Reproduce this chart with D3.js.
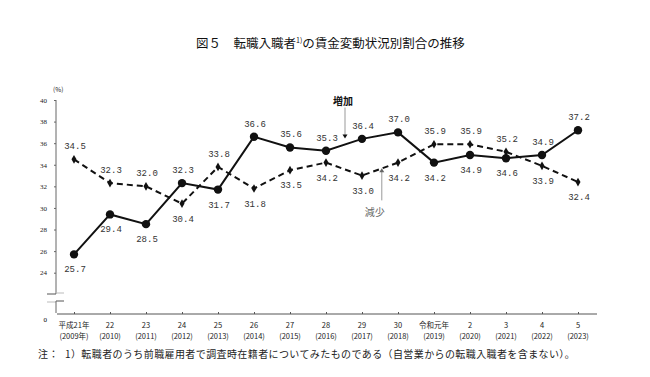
<!DOCTYPE html>
<html>
<head>
<meta charset="utf-8">
<script src="https://cdn.jsdelivr.net/npm/d3@7"></script>
<style>
  body { margin: 0; background: #fff; }
  text { font-family: "Noto Sans CJK JP", sans-serif; }
  .num { font-family: "Liberation Mono", "DejaVu Sans Mono", monospace; }
</style>
</head>
<body>
<div id="chart"></div>
<script>
// data
var years = ["H21", "H22", "H23", "H24", "H25", "H26", "H27", "H28", "H29", "H30", "R1", "R2", "R3", "R4", "R5"];
var yearLabel1 = ["平成21年", "22", "23", "24", "25", "26", "27", "28", "29", "30", "令和元年", "2", "3", "4", "5"];
var yearLabel2 = ["(2009年)", "(2010)", "(2011)", "(2012)", "(2013)", "(2014)", "(2015)", "(2016)", "(2017)", "(2018)", "(2019)", "(2020)", "(2021)", "(2022)", "(2023)"];
var increase = [25.7, 29.4, 28.5, 32.3, 31.7, 36.6, 35.6, 35.3, 36.4, 37.0, 34.2, 34.9, 34.6, 34.9, 37.2];
var decrease = [34.5, 32.3, 32.0, 30.4, 33.8, 31.8, 33.5, 34.2, 33.0, 34.2, 35.9, 35.9, 35.2, 33.9, 32.4];
// label above (1) or below (0) the point
var incAbove = [0, 0, 0, 1, 0, 1, 1, 1, 1, 1, 0, 0, 0, 1, 1];
var decAbove = [1, 1, 1, 0, 1, 0, 0, 0, 0, 0, 1, 1, 1, 0, 0];
var yTicks = [24, 26, 28, 30, 32, 34, 36, 38, 40];

var W = 650, H = 377;
var svg = d3.select("#chart").append("svg")
    .attr("width", W).attr("height", H);

var x = d3.scalePoint().domain(years).range([56, 596]).padding(0.5);
var y = d3.scaleLinear().domain([24, 40]).range([272.7, 100]);
var step = x.step();
var baseY = 314;

// title
var title = svg.append("text")
    .attr("x", 196).attr("y", 48)
    .style("font-size", "12.5px").attr("fill", "#111");
title.append("tspan").text("図５　転職入職者");
title.append("tspan").attr("dy", -5).style("font-size", "7px").text("1)");
title.append("tspan").attr("dy", 5).text("の賃金変動状況別割合の推移");

// y axis
svg.append("g")
    .attr("transform", "translate(56,0)")
    .call(d3.axisLeft(y).tickValues(yTicks).tickSize(2).tickFormat(d3.format("d")))
    .call(function(g) {
      g.select(".domain").remove();
      g.selectAll("line").attr("stroke", "#666");
      g.selectAll("text").attr("x", -9).attr("fill", "#222")
        .style("font-size", "7px").style("font-family", "Liberation Serif, serif");
    });
svg.append("line").attr("x1", 56).attr("x2", 56).attr("y1", y(40)).attr("y2", 294)
    .attr("stroke", "#666");
// axis break
svg.append("line").attr("x1", 47).attr("x2", 56).attr("y1", 294).attr("y2", 294).attr("stroke", "#555");
svg.append("line").attr("x1", 56).attr("x2", 64).attr("y1", 293).attr("y2", 293).attr("stroke", "#bbb");
svg.append("line").attr("x1", 47).attr("x2", 56).attr("y1", 302).attr("y2", 302).attr("stroke", "#bbb");
svg.append("line").attr("x1", 56).attr("x2", 64).attr("y1", 301).attr("y2", 301).attr("stroke", "#555");
svg.append("line").attr("x1", 56).attr("x2", 56).attr("y1", 301).attr("y2", 313).attr("stroke", "#666");
svg.append("text").attr("x", 47).attr("y", 322).attr("text-anchor", "end")
    .style("font-size", "7px").style("font-family", "Liberation Serif, serif").text("0");
svg.append("text").attr("x", 53).attr("y", 92)
    .style("font-size", "6.5px").attr("fill", "#222").text("(%)");

// x axis
svg.append("g")
    .attr("transform", "translate(0," + baseY + ")")
    .call(d3.axisTop(x).tickSize(2).tickFormat(""))
    .call(function(g) {
      g.select(".domain").attr("d", "M57,0H597").attr("stroke", "#555");
      g.selectAll("line").attr("stroke", "#555");
    });
svg.append("g").selectAll("text.l1").data(years).enter().append("text")
    .attr("x", function(d) { return x(d); }).attr("y", 328)
    .attr("text-anchor", "middle").style("font-size", "7.5px").attr("fill", "#222")
    .text(function(d, i) { return yearLabel1[i]; });
svg.append("g").selectAll("text.l2").data(years).enter().append("text")
    .attr("x", function(d) { return x(d); }).attr("y", 339)
    .attr("text-anchor", "middle").style("font-size", "7.5px").attr("fill", "#222")
    .text(function(d, i) { return yearLabel2[i]; });

// lines
var incLine = d3.line()
    .x(function(d, i) { return x(years[i]); })
    .y(function(d) { return y(d); });

svg.append("path").datum(decrease)
    .attr("d", incLine).attr("fill", "none")
    .attr("stroke", "#111").attr("stroke-width", 2)
    .attr("stroke-dasharray", "6,4");
svg.append("path").datum(increase)
    .attr("d", incLine).attr("fill", "none")
    .attr("stroke", "#111").attr("stroke-width", 2);

svg.append("g").selectAll("path").data(decrease).enter().append("path")
    .attr("d", d3.symbol().type(d3.symbolDiamond).size(22))
    .attr("transform", function(d, i) { return "translate(" + x(years[i]) + "," + y(d) + ")"; })
    .attr("fill", "#111");
svg.append("g").selectAll("circle").data(increase).enter().append("circle")
    .attr("cx", function(d, i) { return x(years[i]); })
    .attr("cy", function(d) { return y(d); })
    .attr("r", 4.2).attr("fill", "#111");

// value labels
function labels(vals, above) {
  svg.append("g").selectAll("text").data(vals).enter().append("text")
      .attr("class", "num")
      .attr("x", function(d, i) { return x(years[i]) + 1; })
      .attr("y", function(d, i) { return above[i] ? y(d) - 10 : y(d) + 18; })
      .attr("text-anchor", "middle")
      .style("font-size", "9px").attr("fill", "#333")
      .text(function(d) { return d.toFixed(1); });
}
labels(increase, incAbove);
labels(decrease, decAbove);

// annotations
var ax1 = x("H28") + step / 2 + 1;
svg.append("text").attr("x", ax1 - 2).attr("y", y(39.55))
    .attr("text-anchor", "middle").style("font-size", "10px").style("font-weight", "bold")
    .attr("fill", "#111").text("増加");
svg.append("line").attr("x1", ax1).attr("x2", ax1).attr("y1", y(39.3)).attr("y2", y(36.75))
    .attr("stroke", "#999").attr("stroke-width", 1);
svg.append("path")
    .attr("d", "M" + (ax1 - 2.5) + "," + y(36.8) + "L" + (ax1 + 2.5) + "," + y(36.8) + "L" + ax1 + "," + (y(36.8) + 4) + "Z")
    .attr("fill", "#111");

var ax2 = x("H30") - step * 0.45;
svg.append("line").attr("x1", ax2).attr("x2", ax2).attr("y1", y(30.7)).attr("y2", y(33.4))
    .attr("stroke", "#999").attr("stroke-width", 1);
svg.append("path")
    .attr("d", "M" + (ax2 - 2.5) + "," + y(33.3) + "L" + (ax2 + 2.5) + "," + y(33.3) + "L" + ax2 + "," + (y(33.3) - 4) + "Z")
    .attr("fill", "#666");
svg.append("text").attr("x", ax2 - 7).attr("y", y(29.25))
    .attr("text-anchor", "middle").style("font-size", "10px")
    .attr("fill", "#666").text("減少");

// footnote
var note = svg.append("text").attr("x", 38).attr("y", 358)
    .style("font-size", "10px").style("letter-spacing", "0.4px").attr("fill", "#222");
note.append("tspan").text("注：");
note.append("tspan").attr("x", 65).text("1）転職者のうち前職雇用者で調査時在籍者についてみたものである（自営業からの転職入職者を含まない）。");
</script>
</body>
</html>
